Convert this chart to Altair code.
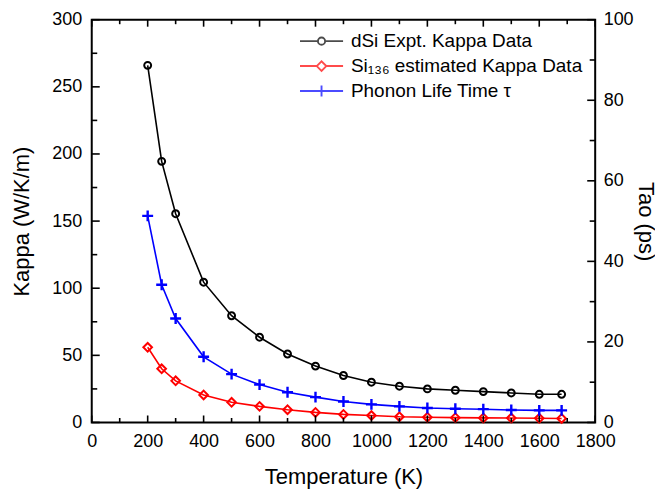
import altair as alt
import pandas as pd

# ---- data ----
T = [200, 250, 300, 400, 500, 600, 700, 800, 900, 1000, 1100, 1200, 1300, 1400, 1500, 1600, 1680]
kappa_dsi = [266, 194.5, 155.5, 104.5, 79.5, 63.5, 51, 42, 35, 30, 27, 25, 24, 23, 22, 21, 21]
kappa_si136 = [56, 40, 31, 20.5, 15, 12, 9.5, 7.5, 6, 5.2, 4.3, 3.9, 3.6, 3.4, 3.3, 3.1, 3.0]
tau = [51.3, 34.2, 25.8, 16.3, 12, 9.4, 7.5, 6.3, 5.2, 4.5, 4.0, 3.6, 3.4, 3.3, 3.1, 3.0, 3.0]

series_names = ["dSi Expt. Kappa Data", "Si\u2081\u2083\u2086 estimated Kappa Data", "Phonon Life Time \u03c4"]
series_colors = ["#000000", "#FF0000", "#0000FF"]

x_major = list(range(0, 1801, 200))
x_minor = list(range(100, 1800, 200))
k_major = list(range(0, 301, 50))
k_minor = list(range(25, 300, 50))
t_major = list(range(0, 101, 20))
t_minor = list(range(10, 100, 20))

W, H = 505, 404
FONT = "Liberation Sans"

df_dsi = pd.DataFrame({"T": T, "kappa": kappa_dsi})
df_si136 = pd.DataFrame({"T": T, "kappa": kappa_si136})
df_tau = pd.DataFrame({"T": T, "tau": tau})

x_enc = alt.X("T:Q", scale=alt.Scale(domain=[0, 1800], nice=False, zero=False),
              axis=alt.Axis(values=x_major, title="Temperature (K)", labelPadding=10,
                            titlePadding=16, format="d", labelOverlap=False, labelFlush=False))
y_left = alt.Y("kappa:Q", scale=alt.Scale(domain=[0, 300], nice=False),
               axis=alt.Axis(values=k_major, title="Kappa (W/K/m)", orient="left",
                             labelPadding=10, titlePadding=18, format="d", labelOverlap=False,
                             labelFlush=False))
y_right = alt.Y("tau:Q", scale=alt.Scale(domain=[0, 100], nice=False),
                axis=alt.Axis(values=t_major, title="Tao (ps)", orient="right",
                              labelPadding=8, titlePadding=0, titleAngle=90,
                              format="d", labelOverlap=False, labelFlush=False))

plus_path = "M-1,0H1M0,-1V1"

lw = 1.6
black_line = alt.Chart(df_dsi).mark_line(color="black", strokeWidth=lw).encode(x=x_enc, y=y_left)
black_pts = alt.Chart(df_dsi).mark_point(shape="circle", filled=False, color="black",
                                         size=48, strokeWidth=2, opacity=1).encode(x=x_enc, y=y_left)
red_line = alt.Chart(df_si136).mark_line(color="#FF0000", strokeWidth=lw).encode(x=x_enc, y=y_left)
red_pts = alt.Chart(df_si136).mark_point(shape="diamond", filled=False, color="#FF0000",
                                         size=75, strokeWidth=2, opacity=1).encode(x=x_enc, y=y_left)
blue_line = alt.Chart(df_tau).mark_line(color="#0000FF", strokeWidth=lw).encode(x=x_enc, y=y_right)
blue_pts = alt.Chart(df_tau).mark_point(shape=plus_path, filled=False, color="#0000FF",
                                        size=120, strokeWidth=2.4, opacity=1).encode(x=x_enc, y=y_right)

# tick marks (inward), drawn through the scales
df_xmaj = pd.DataFrame({"T": x_major})
df_xmin = pd.DataFrame({"T": x_minor})
df_kmaj = pd.DataFrame({"kappa": k_major})
df_kmin = pd.DataFrame({"kappa": k_minor})
df_tmaj = pd.DataFrame({"tau": t_major})
df_tmin = pd.DataFrame({"tau": t_minor})

MAJ, MIN = 7, 4.5
tick_style = dict(color="black", strokeWidth=1.6)
xt = [
    alt.Chart(df_xmaj).mark_rule(**tick_style).encode(x=x_enc, y=alt.value(H), y2=alt.value(H - MAJ)),
    alt.Chart(df_xmin).mark_rule(**tick_style).encode(x=x_enc, y=alt.value(H), y2=alt.value(H - MIN)),
    alt.Chart(df_xmaj).mark_rule(**tick_style).encode(x=x_enc, y=alt.value(0), y2=alt.value(MAJ)),
    alt.Chart(df_xmin).mark_rule(**tick_style).encode(x=x_enc, y=alt.value(0), y2=alt.value(MIN)),
]
kt = [
    alt.Chart(df_kmaj).mark_rule(**tick_style).encode(y=y_left, x=alt.value(0), x2=alt.value(MAJ + 1)),
    alt.Chart(df_kmin).mark_rule(**tick_style).encode(y=y_left, x=alt.value(0), x2=alt.value(MIN + 1)),
]
tt = [
    alt.Chart(df_tmaj).mark_rule(**tick_style).encode(y=y_right, x=alt.value(W), x2=alt.value(W - MAJ - 1)),
    alt.Chart(df_tmin).mark_rule(**tick_style).encode(y=y_right, x=alt.value(W), x2=alt.value(W - MIN - 1)),
]

# legend (symbols: line + marker)
leg_paths = [
    "M-2.7,0H-0.45M0.45,0H2.7M-0.45,0A0.45,0.45,0,1,0,0.45,0A0.45,0.45,0,1,0,-0.45,0",
    "M-2.7,0H-0.6M0.6,0H2.7M-0.6,0L0,-0.6L0.6,0L0,0.6Z",
    "M-2.7,0H2.7M0,-0.7V0.7",
]
leg = alt.Legend(title=None, orient="none", legendX=221, legendY=12, labelFont=FONT,
                 labelFontSize=19, labelColor="black", symbolSize=256, labelOffset=20,
                 rowPadding=5, padding=0, symbolStrokeWidth=1.9, symbolFillColor="transparent",
                 labelLimit=400)
df_leg = pd.DataFrame({"series": series_names, "T": [0, 0, 0], "kappa": [0, 0, 0]})
legend_layer = alt.Chart(df_leg).mark_point(filled=False, strokeWidth=1.9).encode(
    x=x_enc, y=y_left,
    color=alt.Color("series:N", scale=alt.Scale(domain=series_names, range=series_colors), legend=leg),
    shape=alt.Shape("series:N", scale=alt.Scale(domain=series_names, range=leg_paths), legend=leg),
).transform_filter("false")

left = alt.layer(black_line, red_line, black_pts, red_pts, *xt, *kt, legend_layer)
right = alt.layer(blue_line, blue_pts, *tt)

chart = alt.layer(left, right).resolve_scale(y="independent").properties(
    width=W, height=H,
    autosize=alt.AutoSizeParams(type="none"),
    padding={"left": 84, "top": 11, "right": 60, "bottom": 70},
).configure_view(stroke="black", strokeWidth=2).configure_axis(
    grid=False, ticks=False, tickSize=0, domain=False,
    labelFont=FONT, labelFontSize=18, labelColor="black",
    titleFont=FONT, titleFontSize=22, titleFontWeight="normal", titleColor="black",
)

chart.save("out.html", embed_options={"renderer": "svg", "actions": False})
